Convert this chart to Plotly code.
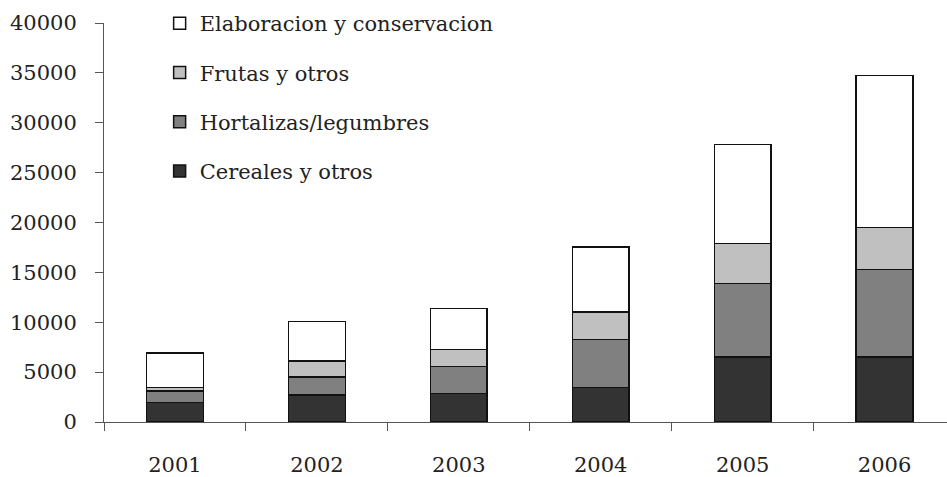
import plotly.graph_objects as go

years = ["2001", "2002", "2003", "2004", "2005", "2006"]
cereales = [1950, 2700, 2880, 3450, 6520, 6520]
hortalizas = [1150, 1800, 2700, 4840, 7380, 8790]
frutas = [350, 1600, 1680, 2740, 3980, 4210]
elaboracion = [3450, 4000, 4100, 6510, 9960, 15230]

series = [
    ("Cereales y otros", cereales, "#333333"),
    ("Hortalizas/legumbres", hortalizas, "#808080"),
    ("Frutas y otros", frutas, "#c0c0c0"),
    ("Elaboracion y conservacion", elaboracion, "#ffffff"),
]

FONT = "DejaVu Serif"
fig = go.Figure()
for i, (name, vals, col) in enumerate(series):
    fig.add_trace(go.Bar(
        x=years, y=vals, name=name, legendgroup=f"g{i}", legendrank=10 - i,
        marker=dict(color=col, line=dict(color="#111111", width=1.5)),
    ))

fig.update_layout(
    barmode="stack",
    bargap=0.6,
    width=947, height=477,
    margin=dict(l=104, r=0, t=23, b=55),
    plot_bgcolor="white", paper_bgcolor="white",
    font=dict(family=FONT, size=21, color="#222222"),
    showlegend=True,
    legend=dict(
        x=0.066, y=1.05, xanchor="left", yanchor="top",
        traceorder="grouped", tracegroupgap=19,
        font=dict(family=FONT, size=21, color="#222222"),
        bgcolor="rgba(0,0,0,0)", itemwidth=30,
    ),
    xaxis=dict(
        type="category", range=[-0.5, 5.44],
        tickson="boundaries", ticks="outside", ticklen=8, tickcolor="#555555",
        showline=True, linecolor="#555555", linewidth=1,
        showgrid=False, ticklabelstandoff=24,
    ),
    yaxis=dict(
        range=[0, 40000], tickvals=[0, 5000, 10000, 15000, 20000, 25000, 30000, 35000, 40000],
        tickformat="d", ticks="outside", ticklen=8, tickcolor="#555555",
        showline=True, linecolor="#555555", linewidth=1,
        showgrid=False, zeroline=False, ticklabelstandoff=14,
    ),
)

fig.write_html("out.html", config={"displayModeBar": False},
               post_script="document.body.style.margin='0';document.body.style.overflow='hidden';")
